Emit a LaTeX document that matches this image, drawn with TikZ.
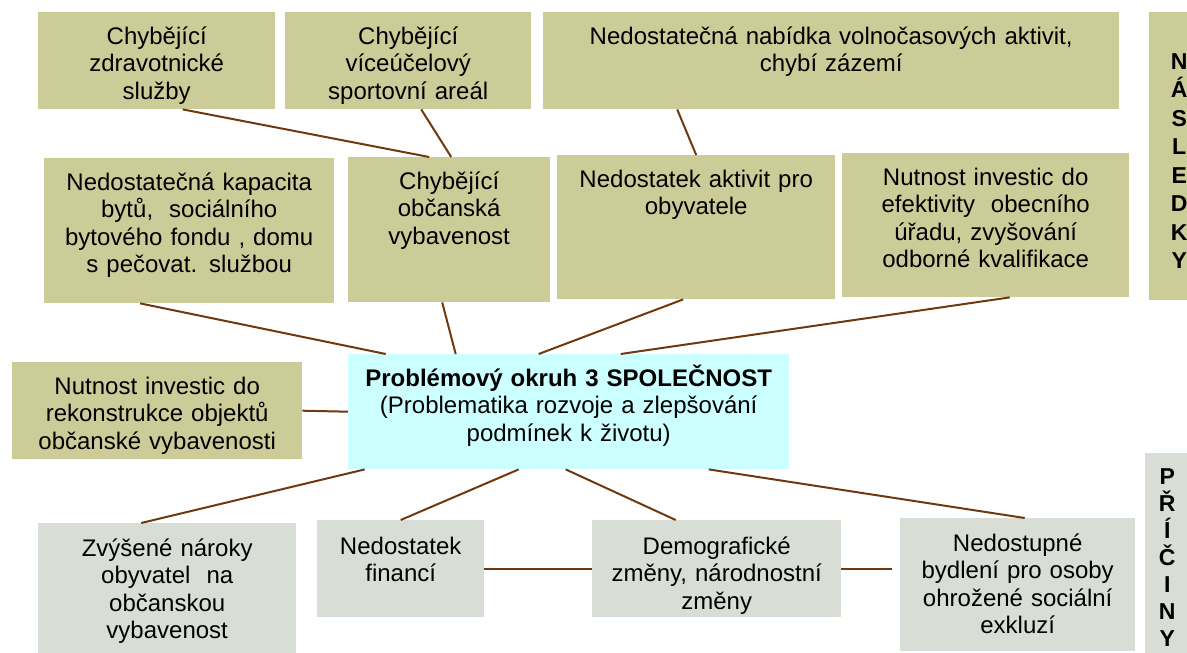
\documentclass[tikz,border=0pt]{standalone}
\usepackage{fontspec}
\setmainfont{Liberation Sans}

\definecolor{olivka}{RGB}{204,204,153}
\definecolor{seda}{RGB}{216,222,213}
\definecolor{azur}{RGB}{204,255,255}
\definecolor{hneda}{RGB}{112,56,14}

\tikzstyle{nasledek} = [fill=olivka, inner sep=0pt, anchor=north west,
    align=center, font=\fontsize{24}{27.5}\selectfont]
\tikzstyle{pricina} = [nasledek, fill=seda]
\tikzstyle{stred} = [nasledek, fill=azur]
\tikzstyle{pruh} = [inner sep=0pt, anchor=north west, align=center,
    font=\bfseries\fontsize{23}{28.5}\selectfont]
\tikzstyle{spoj} = [draw=hneda, line width=2pt]

\begin{document}
\begin{tikzpicture}[x=1pt, y=-1pt]
\useasboundingbox (0,0) rectangle (1187,653);

% nasledky - horni rada
\node [nasledek, text width=237pt, text height=32pt, text depth=65pt] (zdrav) at (38,12)
  {Chybějící\\zdravotnické\\služby};
\node [nasledek, text width=246pt, text height=32pt, text depth=65pt] (sport) at (285,12)
  {Chybějící\\víceúčelový\\sportovní areál};
\node [nasledek, text width=576pt, text height=32pt, text depth=65pt] (volno) at (543,12)
  {Nedostatečná nabídka volnočasových aktivit,\\chybí zázemí};

% nasledky - druha rada
\node [nasledek, text width=290pt, text height=32pt, text depth=113pt] (byty) at (44,158)
  {Nedostatečná kapacita\\bytů,~ sociálního\\bytového fondu , domu\\s pečovat. službou};
\node [nasledek, text width=202pt, text height=32pt, text depth=113pt] (vybav) at (348,157)
  {Chybějící\\občanská\\vybavenost};
\node [nasledek, text width=278pt, text height=32pt, text depth=112pt] (aktiv) at (557,155)
  {Nedostatek aktivit pro\\obyvatele};
\node [nasledek, text width=287pt, text height=32pt, text depth=112pt] (urad) at (842,153)
  {Nutnost investic do\\efektivity~ obecního\\úřadu, zvyšování\\odborné kvalifikace};

% problemovy okruh
\node [nasledek, text width=290pt, text height=32pt, text depth=65pt] (rekon) at (12,362)
  {Nutnost investic do\\rekonstrukce objektů\\občanské vybavenosti};
\node [stred, text width=441pt, text height=32pt, text depth=83pt] (okruh) at (348,354)
  {\textbf{Problémový okruh 3 SPOLEČNOST}\\(Problematika rozvoje a zlepšování\\podmínek k životu)};

% priciny
\node [pricina, text width=258pt, text height=33pt, text depth=100pt] (naroky) at (38,523)
  {Zvýšené nároky\\obyvatel~ na\\občanskou\\vybavenost};
\node [pricina, text width=167pt, text height=34pt, text depth=63pt] (financ) at (317,520)
  {Nedostatek\\financí};
\node [pricina, text width=249pt, text height=34pt, text depth=63pt] (demog) at (592,520)
  {Demografické\\změny, národnostní\\změny};
\node [pricina, text width=235pt, text height=33pt, text depth=100pt] (bydl) at (900,518)
  {Nedostupné\\bydlení pro osoby\\ohrožené sociální\\exkluzí};

% boční pruhy
\node [pruh, fill=olivka, text width=60pt, text height=57pt, text depth=231pt] (nasl) at (1149,12)
  {N\\Á\\S\\L\\E\\D\\K\\Y};
\node [pruh, fill=seda, font=\bfseries\fontsize{23}{27}\selectfont,
  text width=44pt, text height=31pt, text depth=200pt] (pric) at (1145,453)
  {P\\Ř\\Í\\Č\\I\\N\\Y};

% spojnice
\draw [spoj] ([xshift=26pt]zdrav.south) -- ([xshift=-20pt]vybav.north);
\draw [spoj] ([xshift=13pt]sport.south) -- ([xshift=2pt]vybav.north);
\draw [spoj] ([xshift=-154pt]volno.south) -- (aktiv.north);
\draw [spoj] ([xshift=-49pt]byty.south) -- ([xshift=-183pt]okruh.north);
\draw [spoj] ([xshift=-7pt]vybav.south) -- ([xshift=-113pt]okruh.north);
\draw [spoj] ([xshift=-13pt]aktiv.south) -- ([xshift=-30pt]okruh.north);
\draw [spoj] ([xshift=24pt]urad.south) -- ([xshift=52pt]okruh.north);
\draw [spoj] (rekon.east) -- (okruh.west);
\draw [spoj] ([xshift=-204pt]okruh.south) -- ([xshift=-26pt]naroky.north);
\draw [spoj] ([xshift=-50pt]okruh.south) -- (financ.north);
\draw [spoj] ([xshift=-3pt]okruh.south) -- ([xshift=-41pt]demog.north);
\draw [spoj] ([xshift=140pt]okruh.south) -- ([xshift=7pt]bydl.north);
\draw [spoj] (financ.east) -- (demog.west);
\draw [spoj] (demog.east) -- ([xshift=-8pt]demog.east -| bydl.west);
\end{tikzpicture}
\end{document}
